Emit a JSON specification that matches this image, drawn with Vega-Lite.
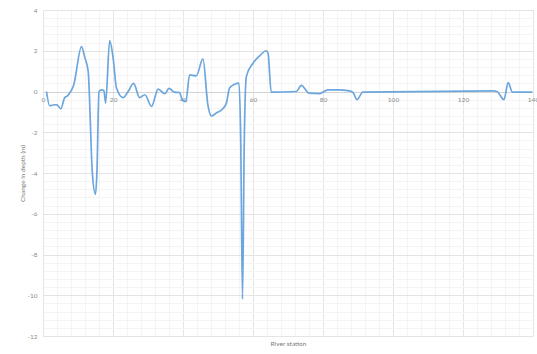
{
  "$schema": "https://vega.github.io/schema/vega-lite/v6.json",
  "width": 490,
  "height": 326,
  "autosize": "none",
  "padding": {"left": 43, "top": 10, "right": 4, "bottom": 18},
  "background": "white",
  "config": {"view": {"stroke": null}, "font": "Lato"},
  "data": {
    "values": [
      {"station": 1.0, "change": 0.0},
      {"station": 1.9, "change": -0.7},
      {"station": 3.3, "change": -0.65},
      {"station": 4.0, "change": -0.66},
      {"station": 5.1, "change": -0.85},
      {"station": 6.2, "change": -0.3},
      {"station": 7.1, "change": -0.2},
      {"station": 8.8, "change": 0.33},
      {"station": 11.0, "change": 2.2},
      {"station": 11.9, "change": 1.7},
      {"station": 12.9, "change": 1.0},
      {"station": 14.1, "change": -4.0},
      {"station": 15.0, "change": -5.05},
      {"station": 15.4, "change": -4.0},
      {"station": 16.0, "change": 0.0},
      {"station": 16.7, "change": 0.08},
      {"station": 17.4, "change": 0.05},
      {"station": 17.9, "change": -0.57},
      {"station": 19.05, "change": 2.5},
      {"station": 20.0, "change": 1.7},
      {"station": 21.0, "change": 0.17},
      {"station": 22.9, "change": -0.3},
      {"station": 24.3, "change": 0.0},
      {"station": 25.9, "change": 0.4},
      {"station": 27.6, "change": -0.3},
      {"station": 29.1, "change": -0.16},
      {"station": 31.0, "change": -0.73},
      {"station": 32.9, "change": 0.12},
      {"station": 34.8, "change": -0.11},
      {"station": 36.0, "change": 0.15},
      {"station": 37.6, "change": -0.03},
      {"station": 39.0, "change": -0.05},
      {"station": 39.8, "change": -0.4},
      {"station": 40.8, "change": -0.5},
      {"station": 41.9, "change": 0.82},
      {"station": 43.8, "change": 0.77},
      {"station": 45.7, "change": 1.6},
      {"station": 47.1, "change": -0.65},
      {"station": 48.1, "change": -1.2},
      {"station": 49.5, "change": -1.06},
      {"station": 51.3, "change": -0.86},
      {"station": 52.4, "change": -0.57},
      {"station": 53.3, "change": 0.17},
      {"station": 54.8, "change": 0.36},
      {"station": 56.0, "change": 0.41},
      {"station": 56.5, "change": -2.5},
      {"station": 57.0, "change": -10.2},
      {"station": 57.5, "change": -2.5},
      {"station": 58.1, "change": 0.73},
      {"station": 60.0, "change": 1.39},
      {"station": 61.9, "change": 1.75},
      {"station": 63.8, "change": 2.0},
      {"station": 64.3, "change": 1.88},
      {"station": 65.2, "change": -0.03},
      {"station": 72.4, "change": 0.0},
      {"station": 73.8, "change": 0.3},
      {"station": 76.0, "change": -0.08},
      {"station": 79.0, "change": -0.1},
      {"station": 81.4, "change": 0.08},
      {"station": 84.3, "change": 0.08},
      {"station": 87.6, "change": 0.03},
      {"station": 88.6, "change": -0.05},
      {"station": 89.7, "change": -0.4},
      {"station": 91.4, "change": -0.03},
      {"station": 128.6, "change": 0.03},
      {"station": 129.7, "change": 0.0},
      {"station": 131.7, "change": -0.4},
      {"station": 132.9, "change": 0.44},
      {"station": 134.1, "change": -0.03},
      {"station": 139.8, "change": -0.03}
    ]
  },
  "mark": {"type": "line", "interpolate": "monotone", "color": "#6ca6de", "strokeWidth": 1.7},
  "encoding": {
    "x": {
      "field": "station",
      "type": "quantitative",
      "scale": {"domain": [0, 140], "nice": false, "zero": false},
      "title": "River station",
      "axis": {
        "values": [0, 4, 8, 12, 16, 20, 24, 28, 32, 36, 40, 44, 48, 52, 56, 60, 64, 68, 72, 76, 80, 84, 88, 92, 96, 100, 104, 108, 112, 116, 120, 124, 128, 132, 136, 140],
        "labelExpr": "datum.value % 20 === 0 ? toString(datum.value) : ''",
        "gridColor": {"condition": {"test": "datum.value % 20 === 0", "value": "#e4e4e4"}, "value": "#f4f4f4"},
        "gridWidth": 1,
        "ticks": false,
        "tickSize": 0,
        "domain": false,
        "labelPadding": -240,
        "labelFlush": false,
        "labelOverlap": false,
        "labelFontSize": 6.5,
        "labelColor": "#8a8a8a",
        "titleFontSize": 6.5,
        "titleFontWeight": "normal",
        "titleColor": "#7a7a7a",
        "titleY": 7,
        "titleBaseline": "middle"
      }
    },
    "y": {
      "field": "change",
      "type": "quantitative",
      "scale": {"domain": [-12, 4], "nice": false, "zero": false},
      "title": "Change in depth (m)",
      "axis": {
        "values": [-12, -11.6, -11.2, -10.8, -10.4, -10, -9.6, -9.2, -8.8, -8.4, -8, -7.6, -7.2, -6.8, -6.4, -6, -5.6, -5.2, -4.8, -4.4, -4, -3.6, -3.2, -2.8, -2.4, -2, -1.6, -1.2, -0.8, -0.4, 0, 0.4, 0.8, 1.2, 1.6, 2, 2.4, 2.8, 3.2, 3.6, 4],
        "labelExpr": "abs(round(datum.value * 10)) % 20 === 0 ? toString(round(datum.value)) : ''",
        "gridColor": {
          "condition": [
            {"test": "datum.value === 0", "value": "#d4d4d4"},
            {"test": "abs(round(datum.value * 10)) % 20 === 0", "value": "#e4e4e4"}
          ],
          "value": "#f4f4f4"
        },
        "gridWidth": 1,
        "ticks": false,
        "tickSize": 0,
        "domain": false,
        "labelPadding": 6,
        "labelOverlap": false,
        "labelFontSize": 6.5,
        "labelColor": "#8a8a8a",
        "titleFontSize": 6.5,
        "titleFontWeight": "normal",
        "titleColor": "#7a7a7a",
        "titleX": -21,
        "titleY": 163,
        "titleBaseline": "middle",
        "titleAlign": "center",
        "titleAngle": -90
      }
    }
  }
}
